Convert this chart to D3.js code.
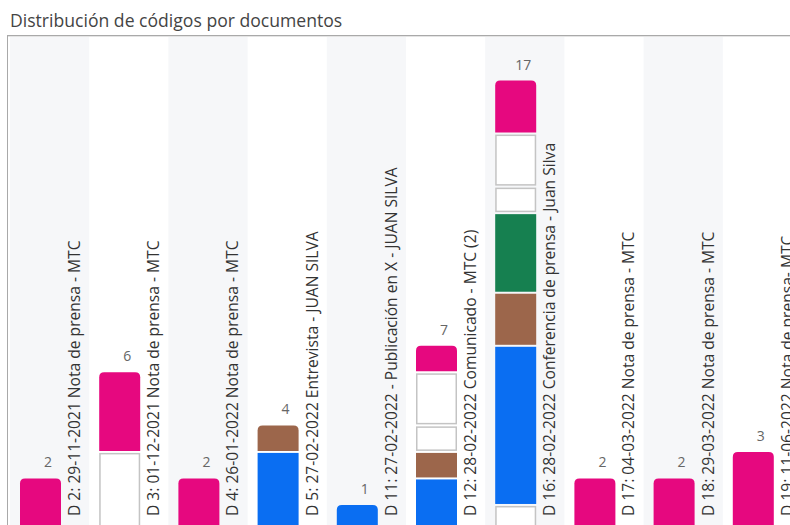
<!DOCTYPE html>
<html><head><meta charset="utf-8">
<script src="https://cdn.jsdelivr.net/npm/d3@7"></script>
<style>
html,body{margin:0;padding:0;background:#fff;overflow:hidden;}
svg{display:block;}
</style></head>
<body>
<svg id="chart" width="790" height="525"></svg>
<script>
const title = "Distribución de códigos por documentos";
const documents = [
  "D 2: 29-11-2021 Nota de prensa - MTC",
  "D 3: 01-12-2021 Nota de prensa - MTC",
  "D 4: 26-01-2022 Nota de prensa - MTC",
  "D 5: 27-02-2022 Entrevista - JUAN SILVA",
  "D 11: 27-02-2022 - Publicación en X - JUAN SILVA",
  "D 12: 28-02-2022 Comunicado - MTC (2)",
  "D 16: 28-02-2022 Conferencia de prensa - Juan Silva",
  "D 17: 04-03-2022 Nota de prensa - MTC",
  "D 18: 29-03-2022 Nota de prensa - MTC",
  "D 19: 11-06-2022 Nota de prensa- MTC"
];
// codes, stacked bottom to top
const codes = ["Código 1", "Código 2", "Código 3", "Código 4", "Código 5", "Código 6", "Código 7"];
const codeColors = ["#ffffff", "#0a6ef2", "#9c664b", "#168050", "#ffffff", "#ffffff", "#e6087f"];
const code1 = [0, 3, 0, 0, 0, 0, 1, 0, 0, 0];
const code2 = [0, 0, 0, 3, 1, 2, 6, 0, 0, 0];
const code3 = [0, 0, 0, 1, 0, 1, 2, 0, 0, 0];
const code4 = [0, 0, 0, 0, 0, 0, 3, 0, 0, 0];
const code5 = [0, 0, 0, 0, 0, 1, 1, 0, 0, 0];
const code6 = [0, 0, 0, 0, 0, 2, 2, 0, 0, 0];
const code7 = [2, 3, 2, 0, 0, 1, 2, 2, 2, 3];
const seriesValues = [code1, code2, code3, code4, code5, code6, code7];

const table = documents.map((d, i) => {
  const row = {doc: d};
  codes.forEach((c, j) => row[c] = seriesValues[j][i]);
  row.total = codes.reduce((s, c) => s + row[c], 0);
  return row;
});

const svg = d3.select("#chart");
const W = 790, H = 525;
const FONT = "'Open Sans', 'Noto Sans', sans-serif";

svg.append("text").attr("x", 10).attr("y", 26.5)
  .attr("font-family", FONT).attr("font-size", 17.6)
  .attr("fill", "#444").text(title);

// frame
svg.append("line").attr("x1", 7).attr("x2", W).attr("y1", 35.5).attr("y2", 35.5).attr("stroke", "#a9a9a9");
svg.append("line").attr("x1", 8).attr("x2", W).attr("y1", 36.5).attr("y2", 36.5).attr("stroke", "#e4e4e4");
svg.append("line").attr("x1", 7.5).attr("x2", 7.5).attr("y1", 35).attr("y2", H).attr("stroke", "#a9a9a9");

const x = d3.scaleBand().domain(documents).range([10, 10 + documents.length * 79.2]).padding(0);
const y = d3.scaleLinear().domain([0, 17]).range([531.5, 80.5]);
const barOffset = 10, barW = 41;

// stripes
svg.append("g").selectAll("rect").data(documents.filter((d, i) => i % 2 === 0)).join("rect")
  .attr("x", d => x(d)).attr("width", x.bandwidth())
  .attr("y", 37).attr("height", H - 37).attr("fill", "#f6f7f9");

const stack = d3.stack().keys(codes)(table);

const gBars = svg.append("g");
function segPath(x0, y0, w, y1, r) {
  const h = y1 - y0;
  r = Math.min(r, h / 2, w / 2);
  return `M${x0},${y1}V${y0 + r}Q${x0},${y0} ${x0 + r},${y0}H${x0 + w - r}Q${x0 + w},${y0} ${x0 + w},${y0 + r}V${y1}Z`;
}
stack.forEach((layer, li) => {
  layer.forEach((seg, i) => {
    const v = seg[1] - seg[0];
    if (v <= 0) return;
    const row = table[i];
    const isTop = seg[1] === row.total;
    const x0 = x(row.doc) + barOffset;
    const yTop = y(seg[1]) + (isTop ? 0 : 1);
    const yBot = y(seg[0]) - 1;
    const white = codeColors[li] === "#ffffff";
    if (white) {
      gBars.append("rect").attr("x", x0 + 0.75).attr("y", yTop + 0.75)
        .attr("width", barW - 1.5).attr("height", yBot - yTop - 1.5)
        .attr("fill", "#fff").attr("stroke", "#c4c4c4").attr("stroke-width", 1.5);
    } else if (isTop) {
      gBars.append("path").attr("d", segPath(x0, yTop, barW, yBot, 5)).attr("fill", codeColors[li]);
    } else {
      gBars.append("rect").attr("x", x0).attr("y", yTop).attr("width", barW)
        .attr("height", yBot - yTop).attr("fill", codeColors[li]);
    }
  });
});

// totals
svg.append("g").selectAll("text").data(table).join("text")
  .attr("x", d => x(d.doc) + barOffset + barW / 2 + 7.5)
  .attr("y", d => y(d.total) - 11)
  .attr("text-anchor", "middle")
  .attr("font-family", FONT).attr("font-size", 14)
  .attr("fill", "#666").text(d => d.total);

// document labels
svg.append("g").selectAll("text").data(table).join("text")
  .attr("transform", d => `translate(${x(d.doc) + 70},516) rotate(-90)`)
  .attr("font-family", FONT).attr("font-size", 15.6)
  .attr("fill", "#333").text(d => d.doc);
</script>
</body></html>
